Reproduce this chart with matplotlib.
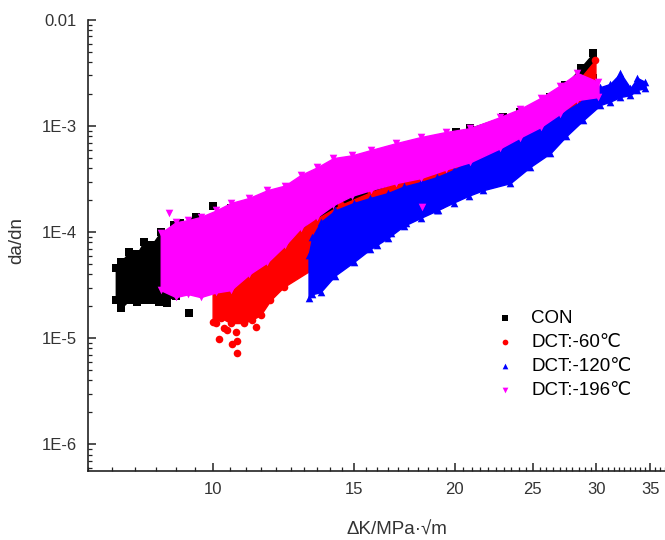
import matplotlib
matplotlib.use("Agg")
import matplotlib.pyplot as plt
from matplotlib.ticker import FixedLocator, MultipleLocator, NullFormatter, LogLocator
import numpy as np

plt.rcParams['font.family'] = ['Liberation Sans', 'DejaVu Sans']

############################################################
# INPUT: band edges of each da/dn - dK cloud
# x = dK (MPa*sqrt(m)), lo / hi = lower and upper edge of da/dn

# CON
con_x  = [7.58, 7.69, 7.87, 8.05, 8.21, 8.40, 8.62, 9.00, 9.39, 10.53, 11.80, 13.24, 15.05, 17.37, 20.04, 20.91, 22.99, 24.13, 25.56, 26.30, 27.45, 28.66, 29.74]
con_hi = [4.57e-5, 5.2e-5, 6.48e-5, 6.2e-5, 8.05e-5, 7.6e-5, 1.0e-4, 1.1e-4, 1.24e-4, 1.68e-4, 2.23e-4, 3.09e-4, 4.29e-4, 5.94e-4, 8.78e-4, 9.6e-4, 1.22e-3, 1.36e-3, 1.6e-3, 1.88e-3, 2.44e-3, 3.53e-3, 4.88e-3]
con_lo = [2.3e-5, 1.92e-5, 2.28e-5, 2.19e-5, 2.3e-5, 2.28e-5, 2.19e-5, 2.5e-5, 2.84e-5, 3.52e-5, 6.07e-5, 1.16e-4, 2.0e-4, 2.78e-4, 4.29e-4, 4.8e-4, 6.62e-4, 8.2e-4, 1.0e-3, 1.19e-3, 1.58e-3, 2.19e-3, 2.84e-3]
con_out_x = [9.34, 10.0, 9.12, 8.95, 9.53, 8.77, 8.57]
con_out_y = [1.72e-5, 1.76e-4, 1.22e-4, 1.16e-4, 1.39e-4, 2.14e-5, 2.19e-5]

# DCT -60
d60_x  = [10.0, 10.25, 10.53, 10.93, 11.2, 11.47, 11.80, 12.25, 13.24, 14.42, 15.72, 17.37, 19.20, 20.91, 23.12, 25.56, 27.45, 28.66, 29.91]
d60_hi = [2.84e-5, 3.1e-5, 3.52e-5, 4.38e-5, 4.6e-5, 5.21e-5, 6.76e-5, 7.87e-5, 1.24e-4, 1.80e-4, 2.38e-4, 3.09e-4, 3.85e-4, 4.78e-4, 6.62e-4, 1.27e-3, 1.96e-3, 2.84e-3, 4.20e-3]
d60_lo = [1.42e-5, 1.55e-5, 1.39e-5, 1.39e-5, 1.5e-5, 1.65e-5, 2.28e-5, 3.03e-5, 4.38e-5, 6.76e-5, 1.04e-4, 1.36e-4, 1.80e-4, 2.49e-4, 3.85e-4, 7.38e-4, 1.19e-3, 1.76e-3, 2.44e-3]
d60_out_x = [10.09, 10.17, 10.41, 10.56, 10.71, 10.71, 10.68, 11.31, 10.32]
d60_out_y = [1.39e-5, 9.78e-6, 1.19e-5, 8.78e-6, 9.37e-6, 7.22e-6, 1.14e-5, 1.27e-5, 1.24e-5]

# DCT -120
d120_x  = [13.16, 13.3, 13.62, 14.2, 14.97, 15.7, 16.50, 17.3, 18.13, 19.0, 19.93, 20.8, 21.71, 23.45, 24.8, 26.30, 27.5, 28.90, 30.34, 31.2, 32.13, 33.06, 33.73, 34.51]
d120_hi = [6.07e-5, 9.0e-5, 1.24e-4, 1.6e-4, 1.88e-4, 2.1e-4, 2.33e-4, 2.7e-4, 2.96e-4, 3.3e-4, 3.85e-4, 4.6e-4, 5.68e-4, 7.38e-4, 9.0e-4, 1.14e-3, 1.4e-3, 1.76e-3, 2.33e-3, 2.5e-3, 3.16e-3, 2.28e-3, 2.84e-3, 2.60e-3]
d120_lo = [2.38e-5, 2.6e-5, 2.72e-5, 3.9e-5, 5.21e-5, 6.9e-5, 8.78e-5, 1.15e-4, 1.36e-4, 1.6e-4, 1.90e-4, 2.2e-4, 2.49e-4, 2.90e-4, 4.1e-4, 5.56e-4, 8.0e-4, 1.14e-3, 1.58e-3, 1.7e-3, 1.88e-3, 1.96e-3, 2.19e-3, 2.28e-3]
d120_out_x = [16.03, 15.40, 16.64, 17.37, 19.04]
d120_out_y = [7.54e-5, 7.06e-5, 9.78e-5, 1.22e-4, 1.61e-4]

# DCT -196
d196_x  = [8.62, 9.00, 9.33, 9.66, 10.1, 10.53, 11.1, 11.70, 12.3, 12.86, 13.5, 14.13, 14.9, 15.72, 16.9, 18.13, 19.5, 20.91, 22.79, 24.1, 25.56, 27.0, 28.41, 30.17]
d196_hi = [9.78e-5, 1.24e-4, 1.3e-4, 1.39e-4, 1.6e-4, 1.88e-4, 2.1e-4, 2.49e-4, 2.75e-4, 3.45e-4, 4.1e-4, 4.99e-4, 5.3e-4, 5.94e-4, 6.9e-4, 7.87e-4, 8.8e-4, 9.57e-4, 1.22e-3, 1.45e-3, 1.84e-3, 2.4e-3, 3.16e-3, 2.60e-3]
d196_lo = [2.84e-5, 2.44e-5, 2.6e-5, 2.44e-5, 2.7e-5, 2.84e-5, 4.0e-5, 5.21e-5, 7.5e-5, 1.09e-4, 1.4e-4, 1.80e-4, 2.2e-4, 2.49e-4, 2.9e-4, 3.23e-4, 3.9e-4, 4.57e-4, 6.20e-4, 7.8e-4, 9.78e-4, 1.3e-3, 1.76e-3, 1.88e-3]
d196_out_x = [8.82, 18.20]
d196_out_y = [1.51e-4, 1.72e-4]

labels = ['CON', 'DCT:-60\u2103', 'DCT:-120\u2103', 'DCT:-196\u2103']
colors = ['#000000', '#ff0000', '#0000ff', '#ff00ff']
markers = ['s', 'o', '^', 'v']

ytick_vals = [1e-6, 1e-5, 1e-4, 1e-3, 1e-2]
ytick_labels = ['1E-6', '1E-5', '1E-4', '1E-3', '0.01']
xtick_vals = [10, 15, 20, 25, 30, 35]

# END INPUT
############################################################

fig = plt.figure(figsize=(6.65, 5.4), dpi=100)
ax = fig.add_axes([88/665, 69/540, 577/665, 451/540])

series = [
    (con_x, con_lo, con_hi, con_out_x, con_out_y),
    (d60_x, d60_lo, d60_hi, d60_out_x, d60_out_y),
    (d120_x, d120_lo, d120_hi, d120_out_x, d120_out_y),
    (d196_x, d196_lo, d196_hi, d196_out_x, d196_out_y),
]

for k, (xs, lo, hi, ox, oy) in enumerate(series):
    c = colors[k]
    ax.fill_between(xs, lo, hi, color=c, lw=1.0, edgecolor=c, zorder=2+k)
    ax.scatter(xs + xs + ox, lo + hi + oy, s=30, marker=markers[k], color=c,
               linewidths=0, zorder=2+k, label=labels[k])

ax.set_xscale('log')
ax.set_yscale('log')
ax.set_xlim(7.0, 36.5)
ax.set_ylim(5.6e-7, 1e-2)

ax.xaxis.set_major_locator(FixedLocator(xtick_vals))
ax.xaxis.set_major_formatter(plt.FixedFormatter([str(v) for v in xtick_vals]))
ax.xaxis.set_minor_locator(MultipleLocator(0.5))
ax.xaxis.set_minor_formatter(NullFormatter())

ax.yaxis.set_major_locator(FixedLocator(ytick_vals))
ax.yaxis.set_major_formatter(plt.FixedFormatter(ytick_labels))
ax.yaxis.set_minor_locator(LogLocator(base=10, subs=np.arange(2, 10)))
ax.yaxis.set_minor_formatter(NullFormatter())

for s in ['top', 'right']:
    ax.spines[s].set_visible(False)
for s in ['left', 'bottom']:
    ax.spines[s].set_linewidth(1.2)
    ax.spines[s].set_color('#222222')

ax.tick_params(which='major', direction='in', length=6, width=1.1, labelsize=12,
               colors='#222222', pad=8)
ax.tick_params(which='minor', direction='in', length=3, width=0.9, colors='#222222')
ax.tick_params(axis='x', which='major', labelcolor='#333333')
ax.tick_params(axis='y', which='major', labelcolor='#333333')

ax.set_xlabel('\u0394K/MPa\u00b7\u221am', fontsize=13.5, color='#333333')
ax.set_ylabel('da/dn', fontsize=13.5, color='#333333')
ax.xaxis.set_label_coords(0.535, -0.112)
ax.yaxis.set_label_coords(-0.108, 0.51)

ax.legend(loc='upper left', bbox_to_anchor=(0.69, 0.374), frameon=False,
          fontsize=13.5, markerscale=0.75, handletextpad=0.8,
          labelspacing=0.36, borderaxespad=0, handlelength=1.2)

plt.savefig('out.png', dpi=100)
plt.close()
